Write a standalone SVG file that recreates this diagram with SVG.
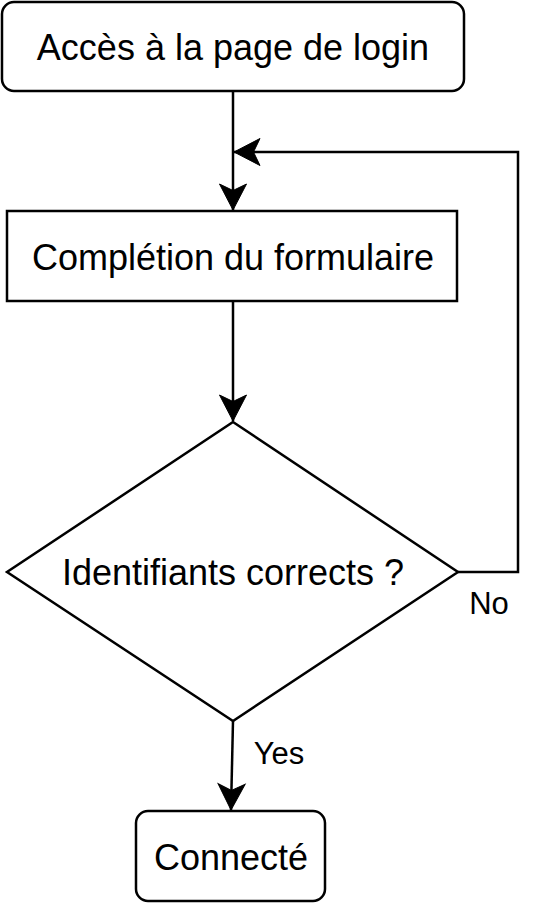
<svg xmlns="http://www.w3.org/2000/svg" width="546" height="906" viewBox="0 0 546 906">
<defs>
<marker id="arr" viewBox="-28 -16 32 32" refX="0" refY="0" markerWidth="32" markerHeight="32" markerUnits="userSpaceOnUse" orient="auto">
<path d="M0,0 L-26,-13.5 L-19.5,0 L-26,13.5 Z" fill="#000" stroke="#000" stroke-width="1" stroke-linejoin="miter"/>
</marker>
</defs>
<style>
.shape{fill:#fff;stroke:#000;stroke-width:2.5}
.lbl{font-family:"Liberation Sans",Arial,Helvetica,sans-serif;font-size:36px;fill:#000;text-anchor:middle;dominant-baseline:central}
.elbl{font-family:"Liberation Sans",Arial,Helvetica,sans-serif;font-size:31px;fill:#000;text-anchor:middle;dominant-baseline:central}
.edge{fill:none;stroke:#000;stroke-width:2.5}
</style>
<g id="connectors">
<path class="edge" d="M233,91 L233,210" marker-end="url(#arr)"/>
<path class="edge" d="M233,301 L233,421" marker-end="url(#arr)"/>
<path class="edge" d="M458,572 L518,572 L518,152 L234,152" marker-end="url(#arr)"/>
<path class="edge" d="M233,721 L231,810" marker-end="url(#arr)"/>
<text class="elbl" x="489" y="603">No</text>
<text class="elbl" x="279" y="753">Yes</text>
</g>
<g id="node-acces">
<rect class="shape" x="2" y="2" width="462" height="89" rx="12"/>
<text class="lbl" x="233" y="47">Accès à la page de login</text>
</g>
<g id="node-completion">
<rect class="shape" x="7" y="211" width="450" height="90"/>
<text class="lbl" x="233" y="257">Complétion du formulaire</text>
</g>
<g id="node-identifiants">
<polygon class="shape" points="233,422 458,572 233,721 7,572"/>
<text class="lbl" x="233" y="572">Identifiants corrects ?</text>
</g>
<g id="node-connecte">
<rect class="shape" x="136" y="811" width="189" height="90" rx="12"/>
<text class="lbl" x="231" y="857">Connecté</text>
</g>
</svg>
